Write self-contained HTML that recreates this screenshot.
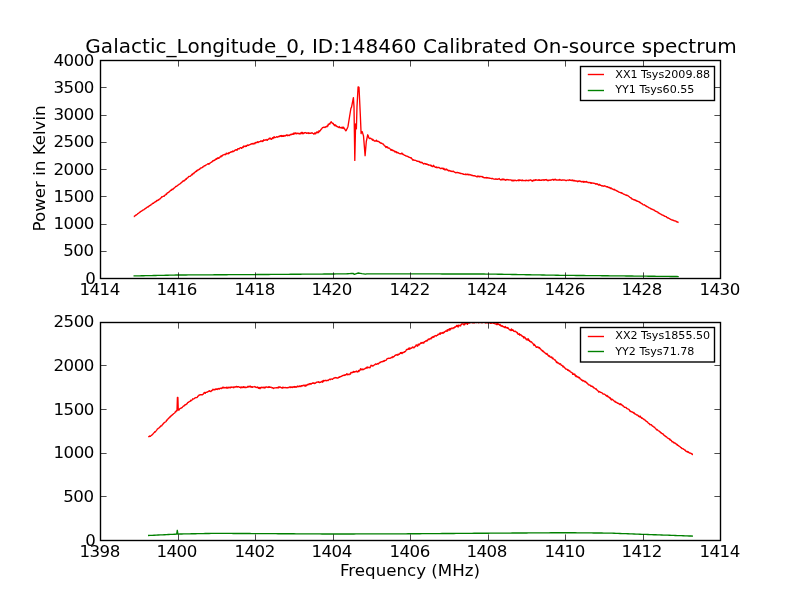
<!DOCTYPE html>
<html><head><meta charset="utf-8"><title>Galactic_Longitude_0 spectrum</title>
<style>
html,body{margin:0;padding:0;background:#fff;}
body{width:800px;height:600px;overflow:hidden;}
svg{display:block;will-change:transform;transform:translateZ(0);}
text{font-family:"DejaVu Sans","Bitstream Vera Sans","Liberation Sans",sans-serif;fill:#000;}
.t{font-size:16.67px;letter-spacing:-0.5px;}
.l{font-size:11.11px;}
.tl{font-size:16.67px;}
.ti{font-size:20px;letter-spacing:0.032px;}
.c{fill:none;stroke-width:1.35;stroke-linejoin:round;stroke-linecap:butt;}
</style></head><body>
<svg width="800" height="600" viewBox="0 0 800 600">
<rect width="800" height="600" fill="#fff"/>
<defs><clipPath id="c1"><rect x="100.5" y="60.5" width="620" height="218"/></clipPath><clipPath id="c2"><rect x="100.5" y="322.5" width="620" height="218"/></clipPath></defs>
<g clip-path="url(#c1)">
<path class="c" stroke="#f00" d="M133.75 216.50 L134.15 216.48 L134.54 216.04 L134.94 215.79 L135.34 215.63 L135.73 215.05 L136.13 215.12 L136.52 214.89 L136.92 214.48 L137.32 214.14 L137.71 213.66 L138.11 213.60 L138.51 213.23 L138.90 212.90 L139.30 212.50 L139.70 212.37 L140.09 212.09 L140.49 211.60 L140.88 211.36 L141.28 211.24 L141.68 211.09 L142.07 210.68 L142.47 210.41 L142.87 210.12 L143.26 209.94 L143.66 209.77 L144.05 209.58 L144.45 209.09 L144.85 208.92 L145.24 208.46 L145.64 208.57 L146.04 208.01 L146.43 207.85 L146.83 207.38 L147.23 207.17 L147.62 206.89 L148.02 207.09 L148.41 206.64 L148.81 206.34 L149.21 205.90 L149.60 205.64 L150.00 205.50 L150.40 205.22 L150.81 205.15 L151.21 204.35 L151.61 204.18 L152.02 204.05 L152.42 203.72 L152.82 203.29 L153.23 203.35 L153.63 203.23 L154.03 202.46 L154.44 202.43 L154.84 202.22 L155.24 201.88 L155.65 201.36 L156.05 201.61 L156.45 201.03 L156.85 200.54 L157.26 200.71 L157.66 200.15 L158.06 200.36 L158.47 199.77 L158.87 199.81 L159.27 199.21 L159.68 199.20 L160.08 198.77 L160.48 198.33 L160.89 197.87 L161.29 197.68 L161.69 196.77 L162.10 196.99 L162.50 196.80 L162.90 196.52 L163.30 196.30 L163.70 196.09 L164.10 196.39 L164.50 195.41 L164.90 195.28 L165.30 194.89 L165.70 194.91 L166.10 193.92 L166.50 194.38 L166.90 193.54 L167.30 192.87 L167.70 192.75 L168.10 192.59 L168.50 192.33 L168.90 191.94 L169.30 191.79 L169.70 191.28 L170.10 190.96 L170.50 190.22 L170.90 190.46 L171.30 190.28 L171.70 189.75 L172.10 189.21 L172.50 189.10 L172.90 189.49 L173.30 188.69 L173.70 188.36 L174.10 188.00 L174.50 188.00 L174.90 187.38 L175.30 186.98 L175.70 186.49 L176.10 186.47 L176.50 186.43 L176.90 185.89 L177.30 185.84 L177.70 185.39 L178.10 185.07 L178.50 184.80 L178.91 184.44 L179.32 184.11 L179.73 184.08 L180.14 183.71 L180.55 183.22 L180.95 183.08 L181.36 182.64 L181.77 182.37 L182.18 181.90 L182.59 181.63 L183.00 180.95 L183.41 181.14 L183.82 181.11 L184.23 180.22 L184.64 180.62 L185.05 180.02 L185.45 179.61 L185.86 178.91 L186.27 179.27 L186.68 178.44 L187.09 178.21 L187.50 177.90 L187.90 177.71 L188.31 176.96 L188.71 176.59 L189.11 176.34 L189.52 176.43 L189.92 176.44 L190.32 176.24 L190.73 175.87 L191.13 175.26 L191.53 174.96 L191.94 174.33 L192.34 174.75 L192.74 174.07 L193.15 173.31 L193.55 173.30 L193.95 173.62 L194.35 172.50 L194.76 172.37 L195.16 172.21 L195.56 171.47 L195.97 171.66 L196.37 171.46 L196.77 170.46 L197.18 170.78 L197.58 170.09 L197.98 169.89 L198.39 170.05 L198.79 169.76 L199.19 169.25 L199.60 169.34 L200.00 168.75 L200.40 168.17 L200.81 168.07 L201.21 167.74 L201.61 167.96 L202.02 167.76 L202.42 167.50 L202.82 166.76 L203.23 166.92 L203.63 166.70 L204.03 165.84 L204.44 165.75 L204.84 165.85 L205.24 165.61 L205.65 165.24 L206.05 165.07 L206.45 164.77 L206.85 164.52 L207.26 164.25 L207.66 163.84 L208.06 163.82 L208.47 163.68 L208.87 164.33 L209.27 163.67 L209.68 163.45 L210.08 163.08 L210.48 162.79 L210.89 162.43 L211.29 162.33 L211.69 161.84 L212.10 161.74 L212.50 161.25 L212.90 160.71 L213.31 160.86 L213.71 160.87 L214.11 160.16 L214.52 160.35 L214.92 160.08 L215.32 159.62 L215.73 159.28 L216.13 158.63 L216.53 159.27 L216.94 158.45 L217.34 158.15 L217.74 158.51 L218.15 157.67 L218.55 158.35 L218.95 158.08 L219.35 157.93 L219.76 157.39 L220.16 156.77 L220.56 156.25 L220.97 156.91 L221.37 156.05 L221.77 155.73 L222.18 156.04 L222.58 155.15 L222.98 155.11 L223.39 154.95 L223.79 154.82 L224.19 154.40 L224.60 154.39 L225.00 154.50 L225.40 154.70 L225.81 154.42 L226.21 153.14 L226.61 153.27 L227.02 153.79 L227.42 153.53 L227.82 153.37 L228.23 153.71 L228.63 152.78 L229.03 153.46 L229.44 152.82 L229.84 152.62 L230.24 152.22 L230.65 152.24 L231.05 151.84 L231.45 151.70 L231.85 152.04 L232.26 151.71 L232.66 151.08 L233.06 151.69 L233.47 151.45 L233.87 151.32 L234.27 150.69 L234.68 150.55 L235.08 150.12 L235.48 149.81 L235.89 150.03 L236.29 149.97 L236.69 149.62 L237.10 150.22 L237.50 149.25 L237.90 148.78 L238.31 148.85 L238.71 148.65 L239.11 149.00 L239.52 148.26 L239.92 147.98 L240.32 147.75 L240.73 147.79 L241.13 147.62 L241.53 148.35 L241.94 147.94 L242.34 147.73 L242.74 146.87 L243.15 147.54 L243.55 146.35 L243.95 145.96 L244.35 146.46 L244.76 146.54 L245.16 146.59 L245.56 145.87 L245.97 146.23 L246.37 146.42 L246.77 145.49 L247.18 145.40 L247.58 144.98 L247.98 145.48 L248.39 145.43 L248.79 145.16 L249.19 144.93 L249.60 144.88 L250.00 144.50 L250.40 144.30 L250.81 144.50 L251.21 143.82 L251.61 143.74 L252.02 143.94 L252.42 143.47 L252.82 143.80 L253.23 144.03 L253.63 143.69 L254.03 143.29 L254.44 143.24 L254.84 143.66 L255.24 142.69 L255.65 142.71 L256.05 142.35 L256.45 142.40 L256.85 142.69 L257.26 142.11 L257.66 141.76 L258.06 142.55 L258.47 142.00 L258.87 142.01 L259.27 141.61 L259.68 141.66 L260.08 141.62 L260.48 141.44 L260.89 140.79 L261.29 140.97 L261.69 141.43 L262.10 141.57 L262.50 140.75 L262.90 141.43 L263.31 140.68 L263.71 139.81 L264.11 140.42 L264.52 140.31 L264.92 140.04 L265.32 140.15 L265.73 139.78 L266.13 139.50 L266.53 140.10 L266.94 139.88 L267.34 140.31 L267.74 139.66 L268.15 139.41 L268.55 139.03 L268.95 138.78 L269.35 138.28 L269.76 138.81 L270.16 138.05 L270.56 138.96 L270.97 139.06 L271.37 139.36 L271.77 138.73 L272.18 138.23 L272.58 137.70 L272.98 138.66 L273.39 137.29 L273.79 137.91 L274.19 136.74 L274.60 137.41 L275.00 137.50 L275.40 137.50 L275.81 137.29 L276.21 137.07 L276.61 136.72 L277.02 136.63 L277.42 137.23 L277.82 136.99 L278.23 136.74 L278.63 136.73 L279.03 136.13 L279.44 136.59 L279.84 136.46 L280.24 135.65 L280.65 135.91 L281.05 136.18 L281.45 135.56 L281.85 136.46 L282.26 136.30 L282.66 135.70 L283.06 136.14 L283.47 136.39 L283.87 135.42 L284.27 136.08 L284.68 135.84 L285.08 135.74 L285.48 135.94 L285.89 135.42 L286.29 134.99 L286.69 134.96 L287.10 135.46 L287.50 135.00 L287.90 135.73 L288.31 135.41 L288.71 135.22 L289.11 135.12 L289.52 135.43 L289.92 135.01 L290.32 134.41 L290.73 134.41 L291.13 134.76 L291.53 134.10 L291.94 134.15 L292.34 134.25 L292.74 133.87 L293.15 134.36 L293.55 133.07 L293.95 134.11 L294.35 133.23 L294.76 132.96 L295.16 133.53 L295.56 132.88 L295.97 133.69 L296.37 133.72 L296.77 133.20 L297.18 133.20 L297.58 133.60 L297.98 133.09 L298.39 133.39 L298.79 133.56 L299.19 134.04 L299.60 133.31 L300.00 133.30 L300.40 133.50 L300.80 133.90 L301.20 132.51 L301.60 133.19 L302.00 132.51 L302.40 132.42 L302.80 133.73 L303.20 133.11 L303.60 133.54 L304.00 132.93 L304.40 133.11 L304.80 132.68 L305.20 132.55 L305.60 132.62 L306.00 132.81 L306.40 133.41 L306.80 132.93 L307.20 133.24 L307.60 133.05 L308.00 133.21 L308.40 132.73 L308.80 133.59 L309.20 133.04 L309.60 133.24 L310.00 133.10 L310.41 133.15 L310.82 133.43 L311.23 133.13 L311.64 132.81 L312.05 132.77 L312.46 133.04 L312.87 133.41 L313.28 133.54 L313.69 133.96 L314.10 133.97 L314.51 133.52 L314.92 132.74 L315.33 133.70 L315.74 133.70 L316.15 132.67 L316.56 132.51 L316.97 131.82 L317.38 132.74 L317.79 132.05 L318.20 132.50 L318.62 132.59 L319.04 130.71 L319.46 131.25 L319.88 131.10 L320.30 130.60 L320.74 129.84 L321.18 129.17 L321.62 129.00 L322.06 128.13 L322.50 127.70 L322.90 127.48 L323.30 127.49 L323.70 127.25 L324.10 127.31 L324.50 127.20 L324.92 127.51 L325.34 126.95 L325.76 127.02 L326.18 126.55 L326.60 126.40 L327.00 126.73 L327.40 125.61 L327.80 126.12 L328.20 124.31 L328.60 124.70 L329.00 124.20 L329.38 123.65 L329.77 124.15 L330.15 123.37 L330.53 122.26 L330.92 122.03 L331.30 121.80 L331.70 122.77 L332.10 122.74 L332.50 123.46 L332.90 123.16 L333.30 123.54 L333.70 124.50 L334.10 124.85 L334.50 125.65 L334.90 124.82 L335.30 125.45 L335.70 125.09 L336.10 126.17 L336.50 126.01 L336.90 126.47 L337.30 126.40 L337.70 126.80 L338.09 127.14 L338.49 127.22 L338.88 127.52 L339.27 126.54 L339.67 127.61 L340.06 127.43 L340.46 127.74 L340.85 127.74 L341.24 127.33 L341.64 127.37 L342.03 128.27 L342.43 127.13 L342.82 127.53 L343.21 128.22 L343.61 127.18 L344.00 128.00 L344.42 128.85 L344.84 129.13 L345.26 129.99 L345.68 130.82 L346.10 130.70 L346.48 129.95 L346.86 128.98 L347.24 128.37 L347.62 127.52 L348.00 126.40 L350.80 109.00 L351.15 107.76 L351.50 107.40 L353.40 97.60 L354.00 106.60 L354.80 160.40 L355.60 124.00 L356.40 128.80 L357.00 106.60 L358.10 86.90 L358.55 87.01 L359.00 87.30 L360.30 114.50 L361.10 133.50 L361.47 131.57 L361.83 131.86 L362.20 131.60 L363.50 135.90 L365.10 155.70 L366.30 141.50 L367.70 134.80 L368.10 135.53 L368.50 136.77 L368.90 138.06 L369.30 138.00 L369.70 138.61 L370.09 138.32 L370.49 138.26 L370.88 138.38 L371.28 139.01 L371.67 139.03 L372.07 139.14 L372.46 140.22 L372.86 139.32 L373.25 139.79 L373.65 140.18 L374.05 140.73 L374.44 141.07 L374.84 140.83 L375.23 141.11 L375.63 140.99 L376.02 140.68 L376.42 140.13 L376.81 141.36 L377.21 140.95 L377.60 141.21 L378.00 141.50 L378.40 141.65 L378.79 141.47 L379.19 141.78 L379.59 142.34 L379.98 142.49 L380.38 142.99 L380.77 142.89 L381.17 143.22 L381.57 143.07 L381.96 143.45 L382.36 143.75 L382.76 143.88 L383.15 143.83 L383.55 144.55 L383.95 144.98 L384.34 145.72 L384.74 145.79 L385.14 146.12 L385.53 146.32 L385.93 147.51 L386.33 146.70 L386.72 146.77 L387.12 147.21 L387.51 146.87 L387.91 147.98 L388.31 147.90 L388.70 148.20 L389.10 148.10 L389.50 148.23 L389.89 148.61 L390.29 149.27 L390.68 149.54 L391.08 150.40 L391.48 150.12 L391.87 149.46 L392.27 150.22 L392.66 150.18 L393.06 150.73 L393.45 150.47 L393.85 150.88 L394.25 150.95 L394.64 151.54 L395.04 152.11 L395.43 151.68 L395.83 151.37 L396.23 151.80 L396.62 152.71 L397.02 152.44 L397.41 152.41 L397.81 152.34 L398.20 153.08 L398.60 152.90 L399.01 153.37 L399.41 153.53 L399.82 153.69 L400.23 153.85 L400.64 153.66 L401.04 153.78 L401.45 153.85 L401.86 153.03 L402.26 153.48 L402.67 154.19 L403.08 154.55 L403.49 154.31 L403.89 154.82 L404.30 155.12 L404.71 155.34 L405.11 155.44 L405.52 155.63 L405.93 156.00 L406.34 156.04 L406.74 156.20 L407.15 156.33 L407.56 156.26 L407.96 156.55 L408.37 157.04 L408.78 157.00 L409.19 157.33 L409.59 157.31 L410.00 157.60 L410.42 157.69 L410.83 158.07 L411.25 157.81 L411.67 158.73 L412.08 159.14 L412.50 159.25 L412.90 160.36 L413.31 159.92 L413.71 160.17 L414.11 159.98 L414.52 160.26 L414.92 160.42 L415.32 160.26 L415.73 160.44 L416.13 160.60 L416.53 161.02 L416.94 160.95 L417.34 161.29 L417.74 161.33 L418.15 161.21 L418.55 161.57 L418.95 161.67 L419.35 161.44 L419.76 162.33 L420.16 161.90 L420.56 162.54 L420.97 162.61 L421.37 162.14 L421.77 162.72 L422.18 162.39 L422.58 162.97 L422.98 163.42 L423.39 163.97 L423.79 163.91 L424.19 163.36 L424.60 163.62 L425.00 163.75 L425.40 163.98 L425.81 163.71 L426.21 164.41 L426.61 164.00 L427.02 164.32 L427.42 164.27 L427.82 164.61 L428.23 165.13 L428.63 164.62 L429.03 165.15 L429.44 165.08 L429.84 165.20 L430.24 164.95 L430.65 165.21 L431.05 166.05 L431.45 165.41 L431.85 166.22 L432.26 166.52 L432.66 166.22 L433.06 166.53 L433.47 165.28 L433.87 166.19 L434.27 166.24 L434.68 166.73 L435.08 167.10 L435.48 167.38 L435.89 167.07 L436.29 167.58 L436.69 166.97 L437.10 167.76 L437.50 167.50 L437.90 167.68 L438.31 167.39 L438.71 167.47 L439.11 167.53 L439.52 167.80 L439.92 168.16 L440.32 168.62 L440.73 168.64 L441.13 168.24 L441.53 168.14 L441.94 168.63 L442.34 168.25 L442.74 168.50 L443.15 168.29 L443.55 169.34 L443.95 168.44 L444.35 169.21 L444.76 169.84 L445.16 169.33 L445.56 169.29 L445.97 169.99 L446.37 169.06 L446.77 169.32 L447.18 169.61 L447.58 170.20 L447.98 170.46 L448.39 170.31 L448.79 171.00 L449.19 170.46 L449.60 170.60 L450.00 170.75 L450.40 170.81 L450.81 171.34 L451.21 171.17 L451.61 171.07 L452.02 171.61 L452.42 171.51 L452.82 171.45 L453.23 171.14 L453.63 171.46 L454.03 171.94 L454.44 172.20 L454.84 172.28 L455.24 172.46 L455.65 172.81 L456.05 172.49 L456.45 172.75 L456.85 172.52 L457.26 172.43 L457.66 172.45 L458.06 172.82 L458.47 172.81 L458.87 172.65 L459.27 173.04 L459.68 173.11 L460.08 173.30 L460.48 173.24 L460.89 173.69 L461.29 173.69 L461.69 173.47 L462.10 173.59 L462.50 173.75 L462.90 173.83 L463.31 174.39 L463.71 174.23 L464.11 174.37 L464.52 174.31 L464.92 174.52 L465.32 174.63 L465.73 174.01 L466.13 174.65 L466.53 174.40 L466.94 174.67 L467.34 174.39 L467.74 174.19 L468.15 174.67 L468.55 174.91 L468.95 174.26 L469.35 174.70 L469.76 174.84 L470.16 175.00 L470.56 174.64 L470.97 174.81 L471.37 175.22 L471.77 175.48 L472.18 175.17 L472.58 175.58 L472.98 175.58 L473.39 175.84 L473.79 175.73 L474.19 175.75 L474.60 175.64 L475.00 176.00 L475.40 175.89 L475.81 176.36 L476.21 176.37 L476.61 176.71 L477.02 176.51 L477.42 176.87 L477.82 175.95 L478.23 176.40 L478.63 176.65 L479.03 176.23 L479.44 176.76 L479.84 176.62 L480.24 176.36 L480.65 176.67 L481.05 176.35 L481.45 176.56 L481.85 176.77 L482.26 176.56 L482.66 177.30 L483.06 176.97 L483.47 177.53 L483.87 177.44 L484.27 177.74 L484.68 177.63 L485.08 177.78 L485.48 177.68 L485.89 177.77 L486.29 177.97 L486.69 177.50 L487.10 177.62 L487.50 178.00 L487.90 177.78 L488.31 178.01 L488.71 177.91 L489.11 177.98 L489.52 178.07 L489.92 178.30 L490.32 178.43 L490.73 178.28 L491.13 178.45 L491.53 178.70 L491.94 178.50 L492.34 178.36 L492.74 178.65 L493.15 178.81 L493.55 178.97 L493.95 179.17 L494.35 179.10 L494.76 179.23 L495.16 179.22 L495.56 179.14 L495.97 178.66 L496.37 179.13 L496.77 179.28 L497.18 179.37 L497.58 179.25 L497.98 179.30 L498.39 178.83 L498.79 178.88 L499.19 178.50 L499.60 179.24 L500.00 179.50 L500.40 179.85 L500.81 179.95 L501.21 179.29 L501.61 179.73 L502.02 179.89 L502.42 179.53 L502.82 179.04 L503.23 179.74 L503.63 179.21 L504.03 179.12 L504.44 179.80 L504.84 179.68 L505.24 179.95 L505.65 180.27 L506.05 179.76 L506.45 179.46 L506.85 179.78 L507.26 179.53 L507.66 179.84 L508.06 179.89 L508.47 179.74 L508.87 180.02 L509.27 179.88 L509.68 179.84 L510.08 179.82 L510.48 179.92 L510.89 180.11 L511.29 180.00 L511.69 180.68 L512.10 180.35 L512.50 180.25 L512.90 181.04 L513.31 180.25 L513.71 180.36 L514.11 180.72 L514.52 180.40 L514.92 180.19 L515.32 180.18 L515.73 180.60 L516.13 180.64 L516.53 180.75 L516.94 180.58 L517.34 180.28 L517.74 180.38 L518.15 180.49 L518.55 179.86 L518.95 180.84 L519.35 179.85 L519.76 180.20 L520.16 180.37 L520.56 180.26 L520.97 180.24 L521.37 180.46 L521.77 180.71 L522.18 179.86 L522.58 180.67 L522.98 180.55 L523.39 180.50 L523.79 180.65 L524.19 180.63 L524.60 180.66 L525.00 180.50 L525.40 180.45 L525.81 180.88 L526.21 180.16 L526.61 180.44 L527.02 180.38 L527.42 180.69 L527.82 180.55 L528.23 180.70 L528.63 180.24 L529.03 180.58 L529.44 180.30 L529.84 180.00 L530.24 179.82 L530.65 180.03 L531.05 180.04 L531.45 180.79 L531.85 180.77 L532.26 180.38 L532.66 181.22 L533.06 180.63 L533.47 180.01 L533.87 180.64 L534.27 180.53 L534.68 180.11 L535.08 179.81 L535.48 180.21 L535.89 179.71 L536.29 179.87 L536.69 180.08 L537.10 180.14 L537.50 180.25 L537.90 180.07 L538.31 179.91 L538.71 180.31 L539.11 179.59 L539.52 180.22 L539.92 180.25 L540.32 180.35 L540.73 180.19 L541.13 180.26 L541.53 180.31 L541.94 179.80 L542.34 179.97 L542.74 180.07 L543.15 179.74 L543.55 179.86 L543.95 180.51 L544.35 180.26 L544.76 179.69 L545.16 179.89 L545.56 179.68 L545.97 180.06 L546.37 180.17 L546.77 179.50 L547.18 180.18 L547.58 180.62 L547.98 180.71 L548.39 180.22 L548.79 180.11 L549.19 180.43 L549.60 180.20 L550.00 180.00 L550.40 180.30 L550.81 179.86 L551.21 180.15 L551.61 179.94 L552.02 179.76 L552.42 179.50 L552.82 179.47 L553.23 179.67 L553.63 180.18 L554.03 179.44 L554.44 179.82 L554.84 179.89 L555.24 179.17 L555.65 179.47 L556.05 179.94 L556.45 180.12 L556.85 179.92 L557.26 180.00 L557.66 180.05 L558.06 179.94 L558.47 180.11 L558.87 180.00 L559.27 180.17 L559.68 179.41 L560.08 180.06 L560.48 180.06 L560.89 179.91 L561.29 180.12 L561.69 180.31 L562.10 180.14 L562.50 180.00 L562.90 180.01 L563.31 180.16 L563.71 180.00 L564.11 179.93 L564.52 180.10 L564.92 180.17 L565.32 180.38 L565.73 180.49 L566.13 180.34 L566.53 180.62 L566.94 180.29 L567.34 180.19 L567.74 180.20 L568.15 180.14 L568.55 180.17 L568.95 180.46 L569.35 179.69 L569.76 180.13 L570.16 180.07 L570.56 180.34 L570.97 180.11 L571.37 180.45 L571.77 180.23 L572.18 180.56 L572.58 180.02 L572.98 180.66 L573.39 180.79 L573.79 180.31 L574.19 180.96 L574.60 180.53 L575.00 180.75 L575.40 181.06 L575.81 180.85 L576.21 181.10 L576.61 181.16 L577.02 180.92 L577.42 181.70 L577.82 181.63 L578.23 181.01 L578.63 181.28 L579.03 181.16 L579.44 180.91 L579.84 180.90 L580.24 181.52 L580.65 181.21 L581.05 181.59 L581.45 181.90 L581.85 181.64 L582.26 181.39 L582.66 181.86 L583.06 181.33 L583.47 181.46 L583.87 182.36 L584.27 181.56 L584.68 181.91 L585.08 181.67 L585.48 181.97 L585.89 182.06 L586.29 181.38 L586.69 181.83 L587.10 182.11 L587.50 182.10 L587.89 182.46 L588.29 182.52 L588.68 182.41 L589.08 182.76 L589.47 182.53 L589.87 182.44 L590.26 182.59 L590.66 183.21 L591.05 182.63 L591.45 183.23 L591.84 183.21 L592.24 182.88 L592.63 183.02 L593.03 183.19 L593.42 183.13 L593.82 183.39 L594.21 183.27 L594.61 183.42 L595.00 183.50 L595.39 184.12 L595.79 183.84 L596.18 183.61 L596.58 183.76 L596.97 184.25 L597.37 183.93 L597.76 183.95 L598.16 184.72 L598.55 185.12 L598.95 185.02 L599.34 184.51 L599.74 184.41 L600.13 185.25 L600.53 185.08 L600.92 185.39 L601.32 185.39 L601.71 185.96 L602.11 185.78 L602.50 185.86 L602.89 186.13 L603.29 185.96 L603.68 186.26 L604.08 186.19 L604.47 185.74 L604.87 185.96 L605.26 186.05 L605.66 186.09 L606.05 186.62 L606.45 186.90 L606.84 186.86 L607.24 186.60 L607.63 186.67 L608.03 187.37 L608.42 187.32 L608.82 187.55 L609.21 187.47 L609.61 187.50 L610.00 188.00 L610.39 188.48 L610.79 187.94 L611.18 188.09 L611.58 188.16 L611.97 189.02 L612.37 188.89 L612.76 189.22 L613.16 189.38 L613.55 189.47 L613.95 189.88 L614.34 189.30 L614.74 189.99 L615.13 189.92 L615.53 190.15 L615.92 190.29 L616.32 190.72 L616.71 190.58 L617.11 190.95 L617.50 191.40 L617.89 191.38 L618.29 191.62 L618.68 192.01 L619.08 192.16 L619.47 192.23 L619.87 192.44 L620.26 192.37 L620.66 192.85 L621.05 192.62 L621.45 192.70 L621.84 193.30 L622.24 193.13 L622.63 193.40 L623.03 193.75 L623.42 194.13 L623.82 194.09 L624.21 194.28 L624.61 194.45 L625.00 194.75 L625.39 194.97 L625.79 194.94 L626.18 195.18 L626.58 195.49 L626.97 195.26 L627.37 195.42 L627.76 195.63 L628.16 195.98 L628.55 196.20 L628.95 196.51 L629.34 196.85 L629.74 197.26 L630.13 197.52 L630.53 197.58 L630.92 197.98 L631.32 197.92 L631.71 198.82 L632.11 199.15 L632.50 198.90 L632.89 199.27 L633.29 199.45 L633.68 199.80 L634.08 199.68 L634.47 199.65 L634.87 200.23 L635.26 200.02 L635.66 200.47 L636.05 200.42 L636.45 200.62 L636.84 201.13 L637.24 201.40 L637.63 201.23 L638.03 201.34 L638.42 201.64 L638.82 201.74 L639.21 201.78 L639.61 202.35 L640.00 202.60 L640.39 202.45 L640.79 203.18 L641.18 203.26 L641.58 203.63 L641.97 203.58 L642.37 203.94 L642.76 204.42 L643.16 204.80 L643.55 204.84 L643.95 204.89 L644.34 204.75 L644.74 205.17 L645.13 205.34 L645.53 205.53 L645.92 206.07 L646.32 205.98 L646.71 206.66 L647.11 206.49 L647.50 206.73 L647.89 207.07 L648.29 207.12 L648.68 207.53 L649.08 207.88 L649.47 207.84 L649.87 208.18 L650.26 208.23 L650.66 208.55 L651.05 208.96 L651.45 208.87 L651.84 209.10 L652.24 209.35 L652.63 209.32 L653.03 209.74 L653.42 209.83 L653.82 210.02 L654.21 210.06 L654.61 210.46 L655.00 210.90 L655.39 211.19 L655.79 211.44 L656.18 211.42 L656.58 211.68 L656.97 211.80 L657.37 211.90 L657.76 212.02 L658.16 212.84 L658.55 212.69 L658.95 213.15 L659.34 213.61 L659.74 213.53 L660.13 213.79 L660.53 214.07 L660.92 214.19 L661.32 214.49 L661.71 214.60 L662.11 215.02 L662.50 215.13 L662.89 215.11 L663.29 215.32 L663.68 215.65 L664.08 215.87 L664.47 216.01 L664.87 216.41 L665.26 216.32 L665.66 216.52 L666.05 216.85 L666.45 216.79 L666.84 217.38 L667.24 217.64 L667.63 217.95 L668.03 217.79 L668.42 218.05 L668.82 218.33 L669.21 218.48 L669.61 218.55 L670.00 219.00 L670.39 219.29 L670.78 219.32 L671.17 219.61 L671.56 219.61 L671.95 220.10 L672.35 220.04 L672.74 220.10 L673.13 220.43 L673.52 220.59 L673.91 220.41 L674.30 220.77 L674.69 220.96 L675.08 220.87 L675.47 220.82 L675.86 221.30 L676.25 221.58 L676.65 221.51 L677.04 222.05 L677.43 221.94 L677.82 222.09 L678.21 222.40 L678.60 222.50"/>
<path class="c" stroke="#008000" d="M133.50 275.95 L135.52 275.91 L137.55 275.86 L139.57 275.82 L141.59 275.78 L143.61 275.73 L145.64 275.69 L147.66 275.65 L149.68 275.60 L151.70 275.56 L153.73 275.52 L155.75 275.48 L157.77 275.43 L159.80 275.39 L161.82 275.35 L163.84 275.30 L165.86 275.26 L167.89 275.22 L169.91 275.17 L171.93 275.13 L173.95 275.09 L175.98 275.04 L178.00 275.00 L180.03 274.99 L182.05 274.98 L184.08 274.96 L186.11 274.95 L188.13 274.94 L190.16 274.93 L192.18 274.92 L194.21 274.91 L196.24 274.89 L198.26 274.88 L200.29 274.87 L202.32 274.86 L204.34 274.85 L206.37 274.83 L208.39 274.82 L210.42 274.81 L212.45 274.80 L214.47 274.79 L216.50 274.77 L218.53 274.76 L220.55 274.75 L222.58 274.74 L224.61 274.73 L226.63 274.72 L228.66 274.70 L230.68 274.69 L232.71 274.68 L234.74 274.67 L236.76 274.66 L238.79 274.64 L240.82 274.63 L242.84 274.62 L244.87 274.61 L246.89 274.60 L248.92 274.59 L250.95 274.57 L252.97 274.56 L255.00 274.55 L256.97 274.54 L258.95 274.52 L260.92 274.51 L262.89 274.49 L264.87 274.48 L266.84 274.46 L268.82 274.45 L270.79 274.43 L272.76 274.42 L274.74 274.41 L276.71 274.39 L278.68 274.38 L280.66 274.36 L282.63 274.35 L284.61 274.33 L286.58 274.32 L288.55 274.30 L290.53 274.29 L292.50 274.27 L294.47 274.26 L296.45 274.25 L298.42 274.23 L300.39 274.22 L302.37 274.20 L304.34 274.19 L306.32 274.17 L308.29 274.16 L310.26 274.14 L312.24 274.13 L314.21 274.12 L316.18 274.10 L318.16 274.09 L320.13 274.07 L322.11 274.06 L324.08 274.04 L326.05 274.03 L328.03 274.01 L330.00 274.00 L332.00 273.98 L334.00 273.96 L336.00 273.94 L338.00 273.93 L340.00 273.91 L342.00 273.89 L344.00 273.87 L346.00 273.85 L347.75 273.74 L349.50 273.62 L351.25 273.51 L353.00 273.40 L354.40 274.40 L356.40 273.70 L358.40 273.00 L360.20 273.35 L362.00 273.70 L363.65 273.95 L365.30 274.20 L367.00 273.85 L369.06 273.85 L371.12 273.85 L373.19 273.85 L375.25 273.85 L377.31 273.85 L379.38 273.85 L381.44 273.85 L383.50 273.85 L385.56 273.85 L387.62 273.85 L389.69 273.85 L391.75 273.85 L393.81 273.85 L395.88 273.85 L397.94 273.85 L400.00 273.85 L402.00 273.85 L404.00 273.86 L406.00 273.86 L408.00 273.87 L410.00 273.87 L412.00 273.88 L414.00 273.88 L416.00 273.89 L418.00 273.89 L420.00 273.90 L422.00 273.90 L424.00 273.90 L426.00 273.91 L428.00 273.91 L430.00 273.92 L432.00 273.92 L434.00 273.93 L436.00 273.93 L438.00 273.94 L440.00 273.94 L442.00 273.95 L444.00 273.95 L446.00 273.95 L448.00 273.96 L450.00 273.96 L452.00 273.97 L454.00 273.97 L456.00 273.98 L458.00 273.98 L460.00 273.99 L462.00 273.99 L464.00 274.00 L466.00 274.00 L468.00 274.00 L470.00 274.01 L472.00 274.01 L474.00 274.02 L476.00 274.02 L478.00 274.03 L480.00 274.03 L482.00 274.04 L484.00 274.04 L486.00 274.05 L488.00 274.05 L490.00 274.08 L492.00 274.12 L494.00 274.15 L496.00 274.19 L498.00 274.22 L500.00 274.26 L502.00 274.29 L504.00 274.33 L506.00 274.36 L508.00 274.40 L510.00 274.43 L512.00 274.47 L514.00 274.50 L516.00 274.54 L518.00 274.57 L520.00 274.61 L522.00 274.64 L524.00 274.68 L526.00 274.71 L528.00 274.74 L530.00 274.78 L532.00 274.81 L534.00 274.85 L536.00 274.88 L538.00 274.92 L540.00 274.95 L542.00 274.99 L544.00 275.02 L546.00 275.06 L548.00 275.09 L550.00 275.13 L552.00 275.16 L554.00 275.20 L556.00 275.23 L558.00 275.27 L560.00 275.30 L562.00 275.32 L564.00 275.34 L566.00 275.36 L568.00 275.38 L570.00 275.40 L572.00 275.42 L574.00 275.44 L576.00 275.46 L578.00 275.48 L580.00 275.50 L582.00 275.52 L584.00 275.54 L586.00 275.56 L588.00 275.58 L590.00 275.60 L592.00 275.62 L594.00 275.64 L596.00 275.66 L598.00 275.68 L600.00 275.70 L602.00 275.72 L604.00 275.74 L606.00 275.76 L608.00 275.78 L610.00 275.80 L612.00 275.82 L614.00 275.84 L616.00 275.86 L618.00 275.88 L620.00 275.90 L622.03 275.92 L624.05 275.94 L626.08 275.97 L628.10 275.99 L630.13 276.01 L632.16 276.03 L634.18 276.06 L636.21 276.08 L638.23 276.10 L640.26 276.12 L642.28 276.15 L644.31 276.17 L646.34 276.19 L648.36 276.21 L650.39 276.24 L652.41 276.26 L654.44 276.28 L656.47 276.30 L658.49 276.33 L660.52 276.35 L662.54 276.37 L664.57 276.39 L666.59 276.42 L668.62 276.44 L670.65 276.46 L672.67 276.48 L674.70 276.51 L676.72 276.53 L678.75 276.55"/>
</g>
<rect x="100.5" y="60.5" width="620" height="218" fill="none" stroke="#000" stroke-width="1.39"/>
<text x="99.6" y="295" text-anchor="middle" class="t">1414</text>
<path d="M178.5 278.5 v-6.1 M178.5 60.5 v6.1" stroke="#000" stroke-width="0.7"/>
<text x="176.6" y="295" text-anchor="middle" class="t">1416</text>
<path d="M255.5 278.5 v-6.1 M255.5 60.5 v6.1" stroke="#000" stroke-width="0.7"/>
<text x="254.6" y="295" text-anchor="middle" class="t">1418</text>
<path d="M333.5 278.5 v-6.1 M333.5 60.5 v6.1" stroke="#000" stroke-width="0.7"/>
<text x="331.6" y="295" text-anchor="middle" class="t">1420</text>
<path d="M410.5 278.5 v-6.1 M410.5 60.5 v6.1" stroke="#000" stroke-width="0.7"/>
<text x="409.6" y="295" text-anchor="middle" class="t">1422</text>
<path d="M488.5 278.5 v-6.1 M488.5 60.5 v6.1" stroke="#000" stroke-width="0.7"/>
<text x="486.6" y="295" text-anchor="middle" class="t">1424</text>
<path d="M565.5 278.5 v-6.1 M565.5 60.5 v6.1" stroke="#000" stroke-width="0.7"/>
<text x="564.6" y="295" text-anchor="middle" class="t">1426</text>
<path d="M643.5 278.5 v-6.1 M643.5 60.5 v6.1" stroke="#000" stroke-width="0.7"/>
<text x="641.6" y="295" text-anchor="middle" class="t">1428</text>
<text x="719.6" y="295" text-anchor="middle" class="t">1430</text>
<text x="95.3" y="284" text-anchor="end" class="t">0</text>
<path d="M100.5 251.5 h6.1 M720.5 251.5 h-6.1" stroke="#000" stroke-width="0.7"/>
<text x="93.5" y="256" text-anchor="end" class="t">500</text>
<path d="M100.5 224.5 h6.1 M720.5 224.5 h-6.1" stroke="#000" stroke-width="0.7"/>
<text x="93.9" y="229" text-anchor="end" class="t">1000</text>
<path d="M100.5 196.5 h6.1 M720.5 196.5 h-6.1" stroke="#000" stroke-width="0.7"/>
<text x="93.9" y="202" text-anchor="end" class="t">1500</text>
<path d="M100.5 169.5 h6.1 M720.5 169.5 h-6.1" stroke="#000" stroke-width="0.7"/>
<text x="93.9" y="175" text-anchor="end" class="t">2000</text>
<path d="M100.5 142.5 h6.1 M720.5 142.5 h-6.1" stroke="#000" stroke-width="0.7"/>
<text x="93.9" y="147" text-anchor="end" class="t">2500</text>
<path d="M100.5 115.5 h6.1 M720.5 115.5 h-6.1" stroke="#000" stroke-width="0.7"/>
<text x="93.9" y="120" text-anchor="end" class="t">3000</text>
<path d="M100.5 87.5 h6.1 M720.5 87.5 h-6.1" stroke="#000" stroke-width="0.7"/>
<text x="93.9" y="93" text-anchor="end" class="t">3500</text>
<text x="93.9" y="66" text-anchor="end" class="t">4000</text>
<rect x="580.5" y="66.5" width="134" height="34" fill="#fff" stroke="#000" stroke-width="1.39"/>
<path d="M587.8 74.5 h16.2" stroke="#f00" stroke-width="1.39"/>
<text x="615.3" y="77.9" class="l">XX1 Tsys2009.88</text>
<path d="M587.8 90.5 h16.2" stroke="#008000" stroke-width="1.39"/>
<text x="615.3" y="92.9" class="l">YY1 Tsys60.55</text>
<g clip-path="url(#c2)">
<path class="c" stroke="#f00" d="M148.30 437.00 L148.72 436.67 L149.14 436.49 L149.56 436.03 L149.99 436.50 L150.41 436.31 L150.83 435.76 L151.25 435.50 L151.65 435.13 L152.05 434.76 L152.46 434.60 L152.86 434.08 L153.26 433.56 L153.66 433.11 L154.06 432.52 L154.46 432.32 L154.87 431.73 L155.27 431.93 L155.67 431.28 L156.07 430.86 L156.47 430.35 L156.88 429.80 L157.28 429.12 L157.68 428.93 L158.08 428.56 L158.48 428.15 L158.88 428.08 L159.29 427.74 L159.69 426.97 L160.09 426.66 L160.49 426.78 L160.89 425.77 L161.29 425.90 L161.70 425.79 L162.10 425.16 L162.50 424.50 L162.90 424.05 L163.31 423.85 L163.71 423.19 L164.11 422.77 L164.52 422.65 L164.92 422.20 L165.32 421.99 L165.73 421.76 L166.13 421.43 L166.53 420.14 L166.94 420.28 L167.34 419.83 L167.74 419.39 L168.15 418.67 L168.55 418.30 L168.95 418.10 L169.35 417.46 L169.76 416.86 L170.16 417.01 L170.56 416.58 L170.97 415.71 L171.37 415.89 L171.77 415.15 L172.18 415.19 L172.58 414.51 L172.98 414.48 L173.39 413.87 L173.79 413.49 L174.19 413.27 L174.60 412.90 L175.00 412.50 L175.40 411.66 L175.80 411.87 L176.20 410.90 L176.60 410.36 L177.00 410.75 L177.40 397.50 L177.90 397.50 L178.25 410.00 L178.65 409.60 L179.05 409.99 L179.46 409.12 L179.86 408.60 L180.26 408.48 L180.66 408.44 L181.07 408.18 L181.47 407.82 L181.87 407.65 L182.27 407.57 L182.67 406.75 L183.08 406.50 L183.48 406.07 L183.88 405.84 L184.28 405.77 L184.68 405.27 L185.09 404.64 L185.49 404.87 L185.89 404.72 L186.29 404.04 L186.70 404.15 L187.10 403.58 L187.50 403.00 L187.90 402.38 L188.31 402.41 L188.71 401.99 L189.11 401.87 L189.52 401.46 L189.92 401.44 L190.32 401.24 L190.73 400.23 L191.13 400.68 L191.53 400.13 L191.94 400.14 L192.34 399.54 L192.74 398.75 L193.15 399.10 L193.55 399.00 L193.95 398.81 L194.35 398.49 L194.76 398.03 L195.16 397.88 L195.56 397.75 L195.97 397.53 L196.37 397.67 L196.77 397.61 L197.18 397.31 L197.58 396.75 L197.98 396.17 L198.39 395.94 L198.79 395.49 L199.19 394.93 L199.60 395.19 L200.00 395.00 L200.40 394.62 L200.81 394.58 L201.21 394.92 L201.61 394.69 L202.02 394.57 L202.42 394.78 L202.82 394.40 L203.23 394.14 L203.63 393.66 L204.03 392.79 L204.44 392.39 L204.84 392.56 L205.24 393.35 L205.65 392.48 L206.05 392.25 L206.45 392.38 L206.85 392.39 L207.26 392.01 L207.66 391.90 L208.06 391.69 L208.47 391.38 L208.87 391.24 L209.27 390.64 L209.68 391.22 L210.08 391.26 L210.48 391.39 L210.89 391.63 L211.29 390.88 L211.69 390.49 L212.10 390.60 L212.50 390.00 L212.90 389.21 L213.31 389.74 L213.71 389.70 L214.11 389.84 L214.52 389.40 L214.92 389.69 L215.32 389.03 L215.73 389.48 L216.13 389.14 L216.53 388.99 L216.94 389.14 L217.34 389.44 L217.74 388.71 L218.15 388.91 L218.55 388.55 L218.95 389.14 L219.35 389.00 L219.76 388.44 L220.16 388.55 L220.56 388.21 L220.97 388.43 L221.37 388.55 L221.77 387.91 L222.18 387.91 L222.58 387.29 L222.98 388.21 L223.39 387.28 L223.79 387.59 L224.19 387.44 L224.60 387.94 L225.00 387.70 L225.40 387.75 L225.81 387.72 L226.21 387.37 L226.61 388.05 L227.02 387.10 L227.42 388.04 L227.82 387.93 L228.23 388.07 L228.63 387.22 L229.03 387.27 L229.44 387.55 L229.84 387.84 L230.24 387.20 L230.65 387.81 L231.05 386.98 L231.45 387.41 L231.85 387.09 L232.26 387.18 L232.66 387.22 L233.06 387.57 L233.47 386.97 L233.87 387.72 L234.27 387.07 L234.68 387.00 L235.08 386.65 L235.48 387.01 L235.89 386.89 L236.29 386.61 L236.69 386.41 L237.10 387.21 L237.50 387.00 L237.90 386.58 L238.31 386.83 L238.71 386.62 L239.11 387.10 L239.52 387.25 L239.92 387.23 L240.32 387.58 L240.73 387.81 L241.13 386.88 L241.53 387.53 L241.94 387.23 L242.34 387.60 L242.74 387.30 L243.15 386.66 L243.55 387.49 L243.95 387.07 L244.35 387.53 L244.76 386.88 L245.16 387.40 L245.56 387.62 L245.97 387.23 L246.37 387.53 L246.77 387.30 L247.18 387.05 L247.58 387.12 L247.98 386.30 L248.39 387.00 L248.79 386.74 L249.19 386.26 L249.60 386.76 L250.00 387.00 L250.40 386.10 L250.81 386.42 L251.21 387.19 L251.61 387.03 L252.02 386.71 L252.42 387.36 L252.82 386.87 L253.23 386.83 L253.63 386.82 L254.03 386.93 L254.44 386.82 L254.84 386.50 L255.24 386.78 L255.65 387.20 L256.05 387.47 L256.45 387.26 L256.85 387.49 L257.26 387.52 L257.66 387.03 L258.06 387.43 L258.47 388.29 L258.87 387.74 L259.27 388.16 L259.68 387.47 L260.08 388.69 L260.48 387.48 L260.89 387.84 L261.29 387.76 L261.69 387.11 L262.10 387.48 L262.50 387.50 L262.90 387.79 L263.31 387.23 L263.71 387.66 L264.11 387.26 L264.52 387.71 L264.92 388.02 L265.32 387.02 L265.73 387.41 L266.13 387.03 L266.53 386.88 L266.94 387.09 L267.34 387.15 L267.74 387.36 L268.15 387.48 L268.55 386.83 L268.95 387.37 L269.35 386.74 L269.76 387.31 L270.16 387.32 L270.56 387.13 L270.97 387.06 L271.37 387.49 L271.77 387.79 L272.18 387.87 L272.58 387.69 L272.98 387.89 L273.39 388.52 L273.79 388.15 L274.19 388.06 L274.60 387.88 L275.00 387.80 L275.40 387.85 L275.81 387.88 L276.21 387.68 L276.61 387.73 L277.02 387.71 L277.42 387.74 L277.82 387.76 L278.23 387.07 L278.63 387.85 L279.03 387.00 L279.44 387.26 L279.84 386.82 L280.24 387.05 L280.65 387.33 L281.05 387.67 L281.45 387.74 L281.85 387.94 L282.26 387.56 L282.66 388.08 L283.06 387.09 L283.47 387.65 L283.87 387.72 L284.27 387.54 L284.68 387.71 L285.08 387.46 L285.48 387.80 L285.89 387.53 L286.29 387.84 L286.69 387.74 L287.10 387.78 L287.50 387.60 L287.89 387.71 L288.29 387.34 L288.68 387.68 L289.08 387.59 L289.47 387.13 L289.87 386.89 L290.26 387.05 L290.66 387.59 L291.05 386.82 L291.45 387.42 L291.84 387.21 L292.24 387.52 L292.63 386.86 L293.03 387.34 L293.42 386.74 L293.82 387.05 L294.21 387.24 L294.61 386.58 L295.00 387.18 L295.39 386.61 L295.79 386.78 L296.18 387.27 L296.58 386.94 L296.97 386.86 L297.37 386.07 L297.76 386.53 L298.16 386.80 L298.55 386.37 L298.95 386.22 L299.34 386.57 L299.74 385.91 L300.13 385.90 L300.53 386.35 L300.92 386.63 L301.32 385.66 L301.71 385.78 L302.11 385.77 L302.50 386.00 L302.90 385.32 L303.31 385.26 L303.71 385.64 L304.11 385.20 L304.52 385.33 L304.92 386.16 L305.32 385.06 L305.73 386.17 L306.13 385.77 L306.53 384.92 L306.94 385.21 L307.34 384.73 L307.74 384.31 L308.15 384.34 L308.55 384.22 L308.95 384.80 L309.35 383.82 L309.76 383.64 L310.16 383.75 L310.56 383.57 L310.97 384.39 L311.37 383.54 L311.77 383.43 L312.18 383.36 L312.58 383.26 L312.98 382.80 L313.39 383.34 L313.79 383.01 L314.19 383.07 L314.60 383.46 L315.00 383.00 L315.40 383.21 L315.81 382.98 L316.21 382.29 L316.61 382.38 L317.02 382.11 L317.42 382.05 L317.82 381.97 L318.23 381.72 L318.63 382.25 L319.03 381.87 L319.44 382.68 L319.84 382.55 L320.24 382.30 L320.65 382.25 L321.05 381.76 L321.45 381.52 L321.85 381.74 L322.26 381.18 L322.66 382.41 L323.06 380.55 L323.47 380.43 L323.87 381.21 L324.27 380.62 L324.68 380.54 L325.08 380.37 L325.48 380.59 L325.89 380.37 L326.29 380.81 L326.69 380.34 L327.10 380.49 L327.50 380.25 L327.90 380.60 L328.31 380.33 L328.71 379.93 L329.11 379.59 L329.52 379.28 L329.92 379.11 L330.32 379.67 L330.73 379.10 L331.13 379.00 L331.53 379.13 L331.94 379.14 L332.34 379.32 L332.74 379.10 L333.15 378.66 L333.55 378.11 L333.95 378.36 L334.35 377.94 L334.76 377.87 L335.16 377.53 L335.56 377.84 L335.97 377.94 L336.37 377.68 L336.77 378.02 L337.18 377.89 L337.58 377.84 L337.98 378.16 L338.39 377.50 L338.79 377.49 L339.19 376.73 L339.60 377.36 L340.00 377.00 L340.40 376.67 L340.81 376.59 L341.21 376.31 L341.61 376.34 L342.02 375.87 L342.42 375.53 L342.82 375.73 L343.23 375.58 L343.63 375.14 L344.03 375.35 L344.44 375.45 L344.84 374.83 L345.24 375.18 L345.65 375.14 L346.05 374.33 L346.45 374.27 L346.85 373.78 L347.26 374.82 L347.66 374.21 L348.06 374.23 L348.47 374.55 L348.87 374.80 L349.27 374.08 L349.68 374.10 L350.08 373.64 L350.48 374.15 L350.89 372.54 L351.29 372.63 L351.69 372.45 L352.10 372.81 L352.50 372.50 L352.90 372.00 L353.31 372.38 L353.71 371.34 L354.11 372.13 L354.52 371.80 L354.92 371.96 L355.32 371.60 L355.73 371.53 L356.13 371.71 L356.53 371.02 L356.94 371.62 L357.34 371.60 L357.74 371.98 L358.15 371.26 L358.55 370.52 L358.95 371.56 L359.35 370.28 L359.76 370.39 L360.16 369.80 L360.56 368.71 L360.97 369.91 L361.37 369.22 L361.77 369.51 L362.18 369.06 L362.58 369.51 L362.98 369.86 L363.39 369.50 L363.79 369.13 L364.19 368.90 L364.60 368.97 L365.00 368.75 L365.40 368.10 L365.81 368.34 L366.21 368.27 L366.61 367.29 L367.02 367.12 L367.42 367.93 L367.82 367.06 L368.23 367.65 L368.63 367.34 L369.03 367.52 L369.44 367.47 L369.84 367.79 L370.24 367.24 L370.65 366.32 L371.05 365.25 L371.45 365.33 L371.85 365.78 L372.26 365.53 L372.66 366.12 L373.06 365.88 L373.47 365.58 L373.87 365.31 L374.27 364.85 L374.68 364.74 L375.08 364.53 L375.48 363.94 L375.89 364.17 L376.29 364.11 L376.69 364.40 L377.10 363.90 L377.50 363.75 L377.90 363.39 L378.31 364.01 L378.71 363.25 L379.11 363.01 L379.52 363.03 L379.92 362.24 L380.32 362.62 L380.73 362.21 L381.13 361.59 L381.53 361.92 L381.94 361.76 L382.34 361.73 L382.74 361.35 L383.15 361.29 L383.55 360.91 L383.95 361.53 L384.35 360.35 L384.76 360.87 L385.16 360.50 L385.56 360.31 L385.97 360.32 L386.37 359.84 L386.77 359.09 L387.18 358.72 L387.58 358.50 L387.98 358.57 L388.39 358.44 L388.79 358.13 L389.19 358.30 L389.60 358.41 L390.00 358.25 L390.40 358.25 L390.81 357.56 L391.21 357.58 L391.61 357.19 L392.02 357.71 L392.42 357.33 L392.82 356.54 L393.23 356.69 L393.63 357.06 L394.03 356.30 L394.44 356.23 L394.84 355.56 L395.24 355.22 L395.65 355.33 L396.05 354.84 L396.45 354.76 L396.85 354.86 L397.26 355.26 L397.66 354.86 L398.06 354.15 L398.47 354.85 L398.87 354.39 L399.27 354.29 L399.68 353.79 L400.08 353.46 L400.48 352.61 L400.89 353.36 L401.29 352.49 L401.69 352.97 L402.10 353.60 L402.50 352.50 L402.90 352.76 L403.31 352.69 L403.71 352.20 L404.11 352.34 L404.52 351.59 L404.92 351.76 L405.32 351.57 L405.73 350.99 L406.13 350.27 L406.53 349.45 L406.94 349.84 L407.34 349.47 L407.74 349.29 L408.15 349.41 L408.55 348.27 L408.95 348.97 L409.35 347.88 L409.76 349.19 L410.16 348.74 L410.56 348.52 L410.97 347.97 L411.37 348.23 L411.77 347.93 L412.18 347.32 L412.58 347.03 L412.98 347.50 L413.39 347.15 L413.79 347.85 L414.19 347.59 L414.60 346.91 L415.00 346.75 L415.40 346.27 L415.81 345.63 L416.21 344.92 L416.61 345.69 L417.02 345.25 L417.42 346.20 L417.82 345.92 L418.23 344.27 L418.63 344.93 L419.03 344.16 L419.44 344.86 L419.84 343.80 L420.24 343.58 L420.65 343.32 L421.05 342.54 L421.45 342.94 L421.85 343.35 L422.26 342.57 L422.66 342.90 L423.06 342.39 L423.47 343.16 L423.87 342.88 L424.27 341.90 L424.68 341.60 L425.08 341.66 L425.48 341.20 L425.89 340.93 L426.29 340.49 L426.69 341.11 L427.10 341.04 L427.50 340.00 L427.90 340.05 L428.31 339.08 L428.71 339.04 L429.11 339.59 L429.52 338.81 L429.92 338.76 L430.32 338.82 L430.73 338.34 L431.13 338.71 L431.53 337.44 L431.94 337.73 L432.34 337.05 L432.74 337.42 L433.15 336.48 L433.55 336.86 L433.95 337.17 L434.35 336.13 L434.76 336.19 L435.16 335.55 L435.56 335.80 L435.97 335.60 L436.37 335.96 L436.77 335.33 L437.18 335.30 L437.58 335.28 L437.98 334.32 L438.39 334.50 L438.79 334.46 L439.19 334.13 L439.60 333.14 L440.00 334.00 L440.40 334.24 L440.81 332.81 L441.21 333.00 L441.61 332.90 L442.02 333.39 L442.42 332.79 L442.82 332.43 L443.23 333.02 L443.63 333.14 L444.03 331.86 L444.44 332.22 L444.84 331.70 L445.24 331.47 L445.65 330.99 L446.05 330.93 L446.45 330.75 L446.85 331.40 L447.26 329.66 L447.66 330.97 L448.06 330.28 L448.47 329.60 L448.87 329.18 L449.27 330.06 L449.68 328.65 L450.08 329.94 L450.48 328.55 L450.89 329.15 L451.29 328.48 L451.69 328.06 L452.10 328.11 L452.50 328.10 L452.90 328.67 L453.31 327.82 L453.71 327.70 L454.11 327.82 L454.52 327.75 L454.92 326.75 L455.32 327.13 L455.73 326.81 L456.13 326.43 L456.53 325.45 L456.94 326.39 L457.34 326.03 L457.74 325.36 L458.15 327.05 L458.55 325.19 L458.95 325.63 L459.35 325.82 L459.76 325.29 L460.16 325.45 L460.56 325.94 L460.97 324.73 L461.37 324.03 L461.77 324.26 L462.18 323.81 L462.58 323.81 L462.98 323.72 L463.39 323.97 L463.79 324.90 L464.19 323.95 L464.60 324.70 L465.00 323.50 L465.42 323.72 L465.83 323.47 L466.25 322.80 L466.67 323.56 L467.08 323.59 L467.50 324.37 L467.92 322.60 L468.33 322.98 L468.75 323.07 L469.17 323.02 L469.58 322.97 L470.00 322.60 L470.39 322.48 L470.79 322.62 L471.18 322.11 L471.58 321.95 L471.97 322.29 L472.37 322.86 L472.76 322.33 L473.16 322.08 L473.55 322.81 L473.95 322.85 L474.34 322.59 L474.74 322.87 L475.13 321.75 L475.53 321.93 L475.92 321.70 L476.32 322.53 L476.71 321.90 L477.11 321.76 L477.50 322.00 L477.89 321.91 L478.29 322.80 L478.68 321.83 L479.08 322.62 L479.47 322.39 L479.87 322.03 L480.26 321.90 L480.66 322.01 L481.05 322.47 L481.45 322.23 L481.84 322.67 L482.24 321.57 L482.63 322.52 L483.03 321.81 L483.42 322.38 L483.82 322.24 L484.21 322.09 L484.61 322.44 L485.00 322.20 L485.42 322.41 L485.83 323.04 L486.25 322.23 L486.67 322.17 L487.08 322.98 L487.50 322.63 L487.92 321.98 L488.33 322.69 L488.75 322.10 L489.17 322.80 L489.58 322.39 L490.00 322.80 L490.42 323.36 L490.83 323.14 L491.25 323.34 L491.67 322.41 L492.08 322.79 L492.50 322.63 L492.92 323.07 L493.33 323.38 L493.75 322.84 L494.17 323.45 L494.58 323.68 L495.00 323.70 L495.39 323.96 L495.79 323.81 L496.18 324.01 L496.58 324.48 L496.97 323.41 L497.37 324.58 L497.76 323.64 L498.16 324.26 L498.55 324.05 L498.95 324.54 L499.34 324.49 L499.74 325.30 L500.13 324.44 L500.53 325.70 L500.92 325.70 L501.32 326.12 L501.71 325.56 L502.11 326.49 L502.50 325.90 L502.90 326.38 L503.31 326.74 L503.71 326.72 L504.11 327.12 L504.52 327.55 L504.92 327.04 L505.32 326.54 L505.73 327.49 L506.13 327.91 L506.53 327.54 L506.94 327.84 L507.34 327.55 L507.74 328.41 L508.15 327.88 L508.55 328.73 L508.95 328.99 L509.35 329.69 L509.76 329.81 L510.16 330.13 L510.56 329.92 L510.97 330.59 L511.37 328.95 L511.77 329.20 L512.18 330.46 L512.58 329.81 L512.98 329.97 L513.39 330.47 L513.79 331.28 L514.19 331.47 L514.60 331.39 L515.00 331.25 L515.40 331.23 L515.81 331.60 L516.21 332.18 L516.61 332.08 L517.02 332.80 L517.42 332.55 L517.82 334.01 L518.23 334.11 L518.63 334.31 L519.03 334.24 L519.44 333.68 L519.84 335.21 L520.24 334.59 L520.65 334.90 L521.05 335.00 L521.45 335.49 L521.85 335.36 L522.26 336.57 L522.66 336.52 L523.06 336.50 L523.47 336.71 L523.87 338.11 L524.27 336.95 L524.68 337.30 L525.08 337.45 L525.48 338.44 L525.89 338.82 L526.29 339.84 L526.69 339.10 L527.10 338.94 L527.50 339.50 L527.90 340.24 L528.31 338.79 L528.71 340.22 L529.11 339.91 L529.52 341.21 L529.92 340.94 L530.32 341.77 L530.73 341.57 L531.13 342.09 L531.53 341.79 L531.94 342.54 L532.34 342.95 L532.74 343.22 L533.15 343.97 L533.55 344.34 L533.95 345.48 L534.35 344.31 L534.76 345.34 L535.16 345.50 L535.56 346.07 L535.97 346.74 L536.37 347.30 L536.77 347.42 L537.18 346.75 L537.58 347.08 L537.98 347.21 L538.39 347.75 L538.79 347.34 L539.19 348.02 L539.60 347.73 L540.00 348.75 L540.40 348.78 L540.81 349.16 L541.21 350.06 L541.61 350.00 L542.02 350.33 L542.42 351.11 L542.82 350.79 L543.23 351.83 L543.63 351.57 L544.03 352.03 L544.44 352.24 L544.84 352.86 L545.24 353.21 L545.65 353.57 L546.05 353.88 L546.45 354.20 L546.85 353.42 L547.26 354.08 L547.66 354.96 L548.06 354.94 L548.47 355.97 L548.87 356.26 L549.27 355.76 L549.68 356.09 L550.08 357.00 L550.48 357.13 L550.89 357.22 L551.29 357.44 L551.69 356.87 L552.10 358.04 L552.50 358.75 L552.90 357.94 L553.31 358.76 L553.71 359.07 L554.11 359.36 L554.52 359.93 L554.92 360.11 L555.32 359.99 L555.73 360.73 L556.13 361.69 L556.53 362.55 L556.94 361.78 L557.34 362.53 L557.74 362.96 L558.15 362.93 L558.55 362.91 L558.95 363.68 L559.35 364.17 L559.76 363.84 L560.16 363.75 L560.56 363.84 L560.97 364.89 L561.37 365.39 L561.77 365.13 L562.18 365.55 L562.58 365.78 L562.98 366.92 L563.39 366.19 L563.79 367.13 L564.19 366.98 L564.60 367.79 L565.00 368.00 L565.40 368.49 L565.81 369.14 L566.21 369.05 L566.61 369.18 L567.02 369.46 L567.42 369.51 L567.82 370.40 L568.23 370.32 L568.63 370.03 L569.03 370.98 L569.44 371.01 L569.84 370.86 L570.24 371.63 L570.65 372.00 L571.05 372.09 L571.45 372.44 L571.85 372.59 L572.26 372.93 L572.66 374.35 L573.06 373.48 L573.47 374.28 L573.87 374.40 L574.27 374.41 L574.68 374.03 L575.08 375.48 L575.48 375.26 L575.89 376.62 L576.29 375.98 L576.69 375.93 L577.10 376.87 L577.50 377.00 L577.90 376.77 L578.31 377.23 L578.71 377.73 L579.11 377.37 L579.52 377.61 L579.92 378.43 L580.32 379.16 L580.73 379.18 L581.13 379.35 L581.53 380.14 L581.94 380.24 L582.34 380.11 L582.74 381.03 L583.15 380.44 L583.55 380.91 L583.95 380.77 L584.35 381.46 L584.76 381.81 L585.16 381.61 L585.56 381.40 L585.97 382.31 L586.37 382.53 L586.77 383.07 L587.18 382.92 L587.58 383.81 L587.98 383.86 L588.39 384.76 L588.79 384.90 L589.19 384.95 L589.60 385.19 L590.00 385.00 L590.40 385.64 L590.81 386.20 L591.21 385.90 L591.61 386.30 L592.02 386.27 L592.42 386.72 L592.82 386.49 L593.23 387.05 L593.63 387.83 L594.03 387.74 L594.44 387.98 L594.84 388.32 L595.24 388.52 L595.65 389.15 L596.05 388.96 L596.45 389.01 L596.85 389.97 L597.26 390.27 L597.66 390.55 L598.06 390.77 L598.47 391.82 L598.87 392.07 L599.27 391.54 L599.68 391.73 L600.08 391.89 L600.48 392.42 L600.89 392.41 L601.29 392.59 L601.69 392.68 L602.10 392.95 L602.50 393.25 L602.90 393.91 L603.31 394.15 L603.71 394.08 L604.11 393.97 L604.52 394.31 L604.92 394.36 L605.32 394.83 L605.73 395.38 L606.13 395.62 L606.53 396.05 L606.94 395.37 L607.34 396.56 L607.74 396.05 L608.15 396.80 L608.55 396.94 L608.95 397.44 L609.35 397.28 L609.76 398.07 L610.16 397.77 L610.56 399.02 L610.97 398.76 L611.37 399.97 L611.77 399.24 L612.18 399.42 L612.58 399.47 L612.98 399.95 L613.39 400.24 L613.79 400.70 L614.19 401.10 L614.60 401.57 L615.00 401.25 L615.40 402.20 L615.81 401.89 L616.21 402.28 L616.61 402.39 L617.02 402.73 L617.42 403.19 L617.82 403.38 L618.23 403.13 L618.63 403.72 L619.03 403.74 L619.44 403.96 L619.84 404.66 L620.24 404.16 L620.65 403.81 L621.05 404.82 L621.45 404.49 L621.85 404.83 L622.26 405.11 L622.66 405.80 L623.06 405.58 L623.47 406.27 L623.87 406.60 L624.27 407.24 L624.68 407.26 L625.08 407.31 L625.48 407.45 L625.89 407.45 L626.29 407.68 L626.69 408.51 L627.10 408.41 L627.50 408.75 L627.90 409.07 L628.31 409.17 L628.71 409.25 L629.11 409.57 L629.52 410.37 L629.92 411.13 L630.32 410.93 L630.73 411.63 L631.13 411.43 L631.53 411.71 L631.94 412.12 L632.34 411.93 L632.74 412.39 L633.15 412.49 L633.55 412.94 L633.95 412.53 L634.35 413.58 L634.76 413.81 L635.16 413.89 L635.56 414.21 L635.97 414.41 L636.37 414.71 L636.77 415.16 L637.18 414.91 L637.58 415.17 L637.98 415.40 L638.39 416.21 L638.79 415.85 L639.19 416.73 L639.60 416.36 L640.00 417.00 L640.39 416.22 L640.79 417.23 L641.18 417.52 L641.58 418.19 L641.97 417.81 L642.37 418.41 L642.76 418.38 L643.16 418.97 L643.55 419.25 L643.95 419.12 L644.34 419.80 L644.74 419.92 L645.13 419.97 L645.53 420.82 L645.92 420.80 L646.32 421.51 L646.71 421.50 L647.11 421.63 L647.50 422.00 L647.90 422.57 L648.31 423.11 L648.71 423.35 L649.11 423.71 L649.52 423.92 L649.92 424.76 L650.32 424.49 L650.73 424.77 L651.13 424.71 L651.53 424.91 L651.94 425.65 L652.34 426.06 L652.74 426.03 L653.15 426.44 L653.55 426.83 L653.95 427.13 L654.35 427.12 L654.76 427.41 L655.16 428.02 L655.56 428.60 L655.97 429.08 L656.37 429.15 L656.77 429.95 L657.18 429.59 L657.58 430.08 L657.98 430.47 L658.39 430.77 L658.79 431.07 L659.19 431.11 L659.60 431.46 L660.00 432.00 L660.40 432.01 L660.81 432.85 L661.21 432.79 L661.61 433.21 L662.02 433.68 L662.42 433.74 L662.82 433.75 L663.23 434.33 L663.63 434.76 L664.03 435.39 L664.44 435.40 L664.84 435.45 L665.24 436.59 L665.65 436.43 L666.05 436.70 L666.45 436.84 L666.85 437.17 L667.26 437.80 L667.66 438.09 L668.06 438.15 L668.47 438.58 L668.87 438.69 L669.27 438.70 L669.68 439.69 L670.08 439.28 L670.48 440.19 L670.89 440.28 L671.29 440.36 L671.69 441.03 L672.10 441.83 L672.50 441.75 L672.90 441.79 L673.31 442.20 L673.71 442.81 L674.11 442.55 L674.52 443.10 L674.92 442.90 L675.32 443.42 L675.73 443.67 L676.13 444.00 L676.53 444.16 L676.94 444.84 L677.34 444.58 L677.74 445.45 L678.15 445.50 L678.55 445.64 L678.95 446.15 L679.35 446.43 L679.76 446.57 L680.16 446.77 L680.56 447.54 L680.97 447.54 L681.37 447.64 L681.77 448.46 L682.18 448.50 L682.58 448.59 L682.98 448.61 L683.39 449.24 L683.79 449.25 L684.19 449.55 L684.60 449.82 L685.00 450.40 L685.40 450.26 L685.80 451.18 L686.20 451.16 L686.60 451.53 L687.00 451.49 L687.40 452.10 L687.80 451.56 L688.20 452.21 L688.60 452.00 L689.00 452.73 L689.40 452.99 L689.80 453.12 L690.20 452.92 L690.60 453.29 L691.00 453.39 L691.40 453.66 L691.80 454.06 L692.20 454.00 L692.60 454.49 L693.00 454.50"/>
<path class="c" stroke="#008000" d="M148.00 535.50 L150.05 535.40 L152.10 535.31 L154.15 535.21 L156.20 535.11 L158.25 535.02 L160.30 534.92 L162.35 534.83 L164.40 534.73 L166.45 534.63 L168.50 534.54 L170.55 534.44 L172.60 534.34 L174.65 534.25 L176.70 534.15 L177.30 530.30 L177.90 534.05 L179.85 534.01 L181.81 533.98 L183.76 533.94 L185.71 533.90 L187.66 533.87 L189.62 533.83 L191.57 533.79 L193.52 533.76 L195.47 533.72 L197.43 533.68 L199.38 533.64 L201.33 533.61 L203.28 533.57 L205.24 533.53 L207.19 533.50 L209.14 533.46 L211.09 533.42 L213.05 533.39 L215.00 533.35 L217.05 533.36 L219.09 533.37 L221.14 533.38 L223.18 533.40 L225.23 533.41 L227.27 533.42 L229.32 533.43 L231.36 533.44 L233.41 533.45 L235.45 533.46 L237.50 533.48 L239.55 533.49 L241.59 533.50 L243.64 533.51 L245.68 533.52 L247.73 533.53 L249.77 533.54 L251.82 533.55 L253.86 533.57 L255.91 533.58 L257.95 533.59 L260.00 533.60 L262.00 533.61 L264.00 533.62 L266.00 533.63 L268.00 533.65 L270.00 533.66 L272.00 533.67 L274.00 533.68 L276.00 533.69 L278.00 533.70 L280.00 533.71 L282.00 533.73 L284.00 533.74 L286.00 533.75 L288.00 533.76 L290.00 533.77 L292.00 533.78 L294.00 533.79 L296.00 533.81 L298.00 533.82 L300.00 533.83 L302.00 533.84 L304.00 533.85 L306.00 533.86 L308.00 533.87 L310.00 533.89 L312.00 533.90 L314.00 533.91 L316.00 533.92 L318.00 533.93 L320.00 533.94 L322.00 533.95 L324.00 533.97 L326.00 533.98 L328.00 533.99 L330.00 534.00 L332.00 534.00 L334.00 533.99 L336.00 533.99 L338.00 533.98 L340.00 533.98 L342.00 533.97 L344.00 533.97 L346.00 533.97 L348.00 533.96 L350.00 533.96 L352.00 533.95 L354.00 533.95 L356.00 533.94 L358.00 533.94 L360.00 533.94 L362.00 533.93 L364.00 533.93 L366.00 533.92 L368.00 533.92 L370.00 533.91 L372.00 533.91 L374.00 533.91 L376.00 533.90 L378.00 533.90 L380.00 533.89 L382.00 533.89 L384.00 533.88 L386.00 533.88 L388.00 533.88 L390.00 533.87 L392.00 533.87 L394.00 533.86 L396.00 533.86 L398.00 533.85 L400.00 533.85 L402.00 533.84 L404.00 533.82 L406.00 533.81 L408.00 533.79 L410.00 533.77 L412.00 533.76 L414.00 533.75 L416.00 533.73 L418.00 533.72 L420.00 533.70 L422.00 533.69 L424.00 533.67 L426.00 533.65 L428.00 533.64 L430.00 533.62 L432.00 533.61 L434.00 533.60 L436.00 533.58 L438.00 533.57 L440.00 533.55 L442.00 533.53 L444.00 533.52 L446.00 533.50 L448.00 533.49 L450.00 533.48 L452.00 533.46 L454.00 533.45 L456.00 533.43 L458.00 533.41 L460.00 533.40 L462.00 533.38 L464.00 533.37 L466.00 533.36 L468.00 533.34 L470.00 533.33 L472.00 533.31 L474.00 533.29 L476.00 533.28 L478.00 533.26 L480.00 533.25 L482.02 533.24 L484.05 533.22 L486.07 533.21 L488.10 533.20 L490.12 533.18 L492.14 533.17 L494.17 533.16 L496.19 533.15 L498.21 533.13 L500.24 533.12 L502.26 533.11 L504.29 533.09 L506.31 533.08 L508.33 533.07 L510.36 533.05 L512.38 533.04 L514.40 533.03 L516.43 533.01 L518.45 533.00 L520.48 532.99 L522.50 532.98 L524.52 532.96 L526.55 532.95 L528.57 532.94 L530.60 532.92 L532.62 532.91 L534.64 532.90 L536.67 532.88 L538.69 532.87 L540.71 532.86 L542.74 532.84 L544.76 532.83 L546.79 532.82 L548.81 532.80 L550.83 532.79 L552.86 532.78 L554.88 532.77 L556.90 532.75 L558.93 532.74 L560.95 532.73 L562.98 532.71 L565.00 532.70 L567.05 532.72 L569.09 532.74 L571.14 532.75 L573.18 532.77 L575.23 532.79 L577.27 532.81 L579.32 532.83 L581.36 532.85 L583.41 532.86 L585.45 532.88 L587.50 532.90 L589.55 532.92 L591.59 532.94 L593.64 532.95 L595.68 532.97 L597.73 532.99 L599.77 533.01 L601.82 533.03 L603.86 533.05 L605.91 533.06 L607.95 533.08 L610.00 533.10 L612.00 533.18 L614.00 533.25 L616.00 533.33 L618.00 533.40 L620.00 533.48 L622.00 533.55 L624.00 533.62 L626.00 533.70 L628.00 533.77 L630.00 533.85 L632.00 533.92 L634.00 534.00 L636.00 534.07 L638.00 534.15 L640.00 534.22 L642.00 534.30 L643.96 534.37 L645.92 534.44 L647.88 534.51 L649.85 534.58 L651.81 534.65 L653.77 534.72 L655.73 534.78 L657.69 534.85 L659.65 534.92 L661.62 534.99 L663.58 535.06 L665.54 535.13 L667.50 535.20 L669.46 535.27 L671.42 535.34 L673.38 535.41 L675.35 535.48 L677.31 535.55 L679.27 535.62 L681.23 535.68 L683.19 535.75 L685.15 535.82 L687.12 535.89 L689.08 535.96 L691.04 536.03 L693.00 536.10"/>
</g>
<rect x="100.5" y="322.5" width="620" height="218" fill="none" stroke="#000" stroke-width="1.39"/>
<text x="99.6" y="557" text-anchor="middle" class="t">1398</text>
<path d="M178.5 540.5 v-6.1 M178.5 322.5 v6.1" stroke="#000" stroke-width="0.7"/>
<text x="176.6" y="557" text-anchor="middle" class="t">1400</text>
<path d="M255.5 540.5 v-6.1 M255.5 322.5 v6.1" stroke="#000" stroke-width="0.7"/>
<text x="254.6" y="557" text-anchor="middle" class="t">1402</text>
<path d="M333.5 540.5 v-6.1 M333.5 322.5 v6.1" stroke="#000" stroke-width="0.7"/>
<text x="331.6" y="557" text-anchor="middle" class="t">1404</text>
<path d="M410.5 540.5 v-6.1 M410.5 322.5 v6.1" stroke="#000" stroke-width="0.7"/>
<text x="409.6" y="557" text-anchor="middle" class="t">1406</text>
<path d="M488.5 540.5 v-6.1 M488.5 322.5 v6.1" stroke="#000" stroke-width="0.7"/>
<text x="486.6" y="557" text-anchor="middle" class="t">1408</text>
<path d="M565.5 540.5 v-6.1 M565.5 322.5 v6.1" stroke="#000" stroke-width="0.7"/>
<text x="564.6" y="557" text-anchor="middle" class="t">1410</text>
<path d="M643.5 540.5 v-6.1 M643.5 322.5 v6.1" stroke="#000" stroke-width="0.7"/>
<text x="641.6" y="557" text-anchor="middle" class="t">1412</text>
<text x="719.6" y="557" text-anchor="middle" class="t">1414</text>
<text x="95.3" y="546" text-anchor="end" class="t">0</text>
<path d="M100.5 496.5 h6.1 M720.5 496.5 h-6.1" stroke="#000" stroke-width="0.7"/>
<text x="93.5" y="502" text-anchor="end" class="t">500</text>
<path d="M100.5 453.5 h6.1 M720.5 453.5 h-6.1" stroke="#000" stroke-width="0.7"/>
<text x="93.9" y="458" text-anchor="end" class="t">1000</text>
<path d="M100.5 409.5 h6.1 M720.5 409.5 h-6.1" stroke="#000" stroke-width="0.7"/>
<text x="93.9" y="415" text-anchor="end" class="t">1500</text>
<path d="M100.5 365.5 h6.1 M720.5 365.5 h-6.1" stroke="#000" stroke-width="0.7"/>
<text x="93.9" y="371" text-anchor="end" class="t">2000</text>
<text x="93.9" y="327" text-anchor="end" class="t">2500</text>
<rect x="580.5" y="327.5" width="134" height="34.5" fill="#fff" stroke="#000" stroke-width="1.39"/>
<path d="M587.8 336.5 h16.2" stroke="#f00" stroke-width="1.39"/>
<text x="615.3" y="339.1" class="l">XX2 Tsys1855.50</text>
<path d="M587.8 351.5 h16.2" stroke="#008000" stroke-width="1.39"/>
<text x="615.3" y="355" class="l">YY2 Tsys71.78</text>
<text x="411" y="53" text-anchor="middle" class="ti">Galactic_Longitude_0, ID:148460 Calibrated On-source spectrum</text>
<text x="410" y="575.5" text-anchor="middle" class="tl">Frequency (MHz)</text>
<text transform="translate(45 168.4) rotate(-90)" text-anchor="middle" class="tl">Power in Kelvin</text>
</svg></body></html>
